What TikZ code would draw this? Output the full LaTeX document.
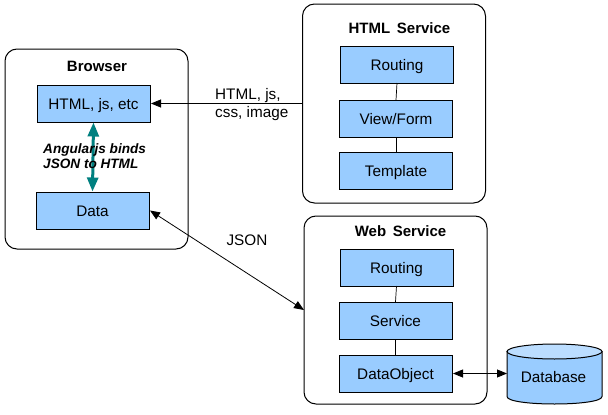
\documentclass[tikz,border=0pt]{standalone}
\usepackage{fontspec}
\setmainfont{Liberation Sans}
\usetikzlibrary{arrows.meta}
\definecolor{boxblue}{HTML}{99CCFF}
\definecolor{cyltop}{HTML}{BBDDFF}
\definecolor{tealarrow}{HTML}{008080}
\tikzset{
  panel/.style={draw=black,line width=1pt,rounded corners=12pt,fill=white,minimum width=183pt,inner sep=0pt,outer sep=0pt},
  bluebox/.style={draw=black,line width=1pt,fill=boxblue,minimum width=113pt,minimum height=37pt,inner sep=0pt,outer sep=0pt,font=\fontsize{15.3pt}{17pt}\selectfont,text height=11pt,text depth=0pt},
  paneltitle/.style={font=\fontsize{15pt}{17pt}\selectfont\bfseries,inner sep=0pt,text height=10.5pt,text depth=0pt},
  plainlabel/.style={font=\fontsize{15.3pt}{18pt}\selectfont,inner sep=0pt,align=left},
  link/.style={draw=black,line width=0.7pt},
  flow/.style={draw=black,line width=0.8pt,-{Triangle[length=10pt,width=8pt]}},
  flowboth/.style={draw=black,line width=0.8pt,{Triangle[length=10pt,width=8pt]}-{Triangle[length=10pt,width=8pt]}},
  bindarrow/.style={draw=tealarrow,line width=3pt,{Triangle[length=14pt,width=11pt]}-{Triangle[length=14pt,width=11pt]},shorten <=0.5pt,shorten >=0.5pt}
}
\begin{document}
\begin{tikzpicture}[x=1pt,y=-1pt]
\useasboundingbox (0,0) rectangle (608,415);
% panels
\node[panel,minimum height=200pt] (browser) at (96.5,149) {};
\node[panel,minimum height=199pt] (hs) at (394,103.5) {};
\node[panel,minimum height=188pt] (ws) at (395.5,310) {};
% titles
\node[paneltitle] (browsertitle) at (97,66) {Browser};
\node[paneltitle] (hstitle) at (399.5,28) {HTML\, Service};
\node[paneltitle] (wstitle) at (400.5,231) {Web\, Service};
% browser boxes
\node[bluebox] (html) at (93.5,103.5) {HTML, js, etc};
\node[bluebox] (data) at (92.5,210.5) {Data};
% html service
\node[bluebox] (r1) at (397,64.5) {Routing};
\node[bluebox] (view) at (396,118.5) {View/Form};
\node[bluebox] (tpl) at (396,170.5) {Template};
% web service
\node[bluebox] (r2) at (396.5,267.5) {Routing};
\node[bluebox] (svc) at (395.5,320.5) {Service};
\node[bluebox] (dobj) at (395.5,373.5) {DataObject};
% database
\node[minimum width=95pt,minimum height=60pt,inner sep=0pt,outer sep=0pt] (db) at (554.5,373.5) {};
\path[draw=black,line width=1pt,fill=boxblue] (507,351.5) -- (507,396.5) .. controls (507,406.5) and (602,406.5) .. (602,396.5) -- (602,351.5) -- cycle;
\draw[line width=1pt,fill=cyltop] (554.5,351.5) ellipse [x radius=47.5pt,y radius=7.5pt];
\node[plainlabel] (dblabel) at (553.5,377) {Database};
% connectors
\draw[link] (r1.south) -- (view.north);
\draw[link] (view.south) -- (tpl.north);
\draw[link] (r2.south) -- (svc.north);
\draw[link] (svc.south) -- (dobj.north);
\draw[flow] (hs.west) -- ([xshift=1pt]html.east);
\draw[flowboth] ([xshift=1pt]data.east) -- (ws.west);
\draw[flowboth] ([xshift=1pt]dobj.east) -- (db.west);
\draw[bindarrow] (html.south) -- (data.north);
% labels
\node[plainlabel,anchor=north west] (l1) at (215,88) {HTML, js,\\css, image};
\node[plainlabel] (l2) at (247,240) {JSON};
\node[anchor=north west,inner sep=0pt,align=left,font=\fontsize{13.6pt}{15pt}\selectfont\bfseries\itshape] (l3) at (43,143) {Angularjs binds\\JSON to HTML};
\end{tikzpicture}
\end{document}
